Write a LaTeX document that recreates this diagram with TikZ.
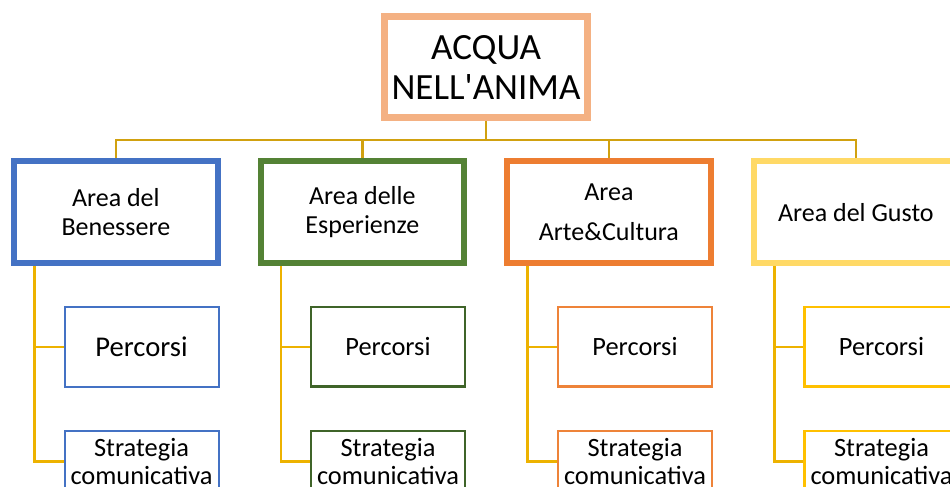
\documentclass[tikz,border=0pt]{standalone}
\usepackage{fontspec}
\setmainfont{Carlito}[Ligatures=TeXOff]
\usetikzlibrary{backgrounds,calc}
\definecolor{titlec}{HTML}{F4B183}
\definecolor{bluec}{HTML}{4472C4}
\definecolor{greenc}{HTML}{548235}
\definecolor{greensub}{HTML}{3F6429}
\definecolor{orangec}{HTML}{ED7D31}
\definecolor{orangesub}{HTML}{EE8339}
\definecolor{yellowc}{HTML}{FFD966}
\definecolor{yellowsub}{HTML}{FFC000}
\definecolor{topline}{HTML}{D1A10F}
\definecolor{lowline}{HTML}{EDB200}
\begin{document}
\begin{tikzpicture}[x=1pt,y=-1pt,
  titlebox/.style={draw=titlec, line width=6.7pt, minimum width=203pt, minimum height=100.7pt, inner sep=0pt, align=center, font=\fontsize{37}{40}\selectfont},
  areabox/.style={line width=6pt, minimum width=203.7pt, minimum height=101.7pt, inner sep=0pt, align=center, font=\fontsize{26}{29.3}\selectfont},
  subbox/.style={line width=2pt, minimum width=154pt, minimum height=79.7pt, inner sep=0pt, align=center, font=\fontsize{26.4}{28}\selectfont},
  subboxb/.style={subbox, minimum height=61pt},
  topconn/.style={draw=topline, line width=2.5pt},
  lowconn/.style={draw=lowline, line width=2.4pt}]
\useasboundingbox (0,0) rectangle (950,487);

\node[titlebox] (title) at (486,67) {ACQUA\\NELL'ANIMA};
\coordinate (bus) at (0,140);

\node[areabox, draw=bluec] (b1) at (115.85,212.15) {Area del\\Benessere};
\node[areabox, draw=greenc] (b2) at (362.35,212.15) {Area delle\\Esperienze};
\node[areabox, draw=orangec, font=\fontsize{26}{40}\selectfont] (b3) at (608.85,212.15) {Area\\Arte\&Cultura};
\node[areabox, draw=yellowc] (b4) at (855.85,212.15) {Area del Gusto};

\node[subbox, draw=bluec, font=\fontsize{28.6}{30}\selectfont] (p1) at (141.5,346.8) {Percorsi};
\node[subbox, draw=greensub, line width=2.6pt] (p2) at (388,346.8) {Percorsi};
\node[subbox, draw=orangesub, line width=2.4pt] (p3) at (635,346.8) {Percorsi};
\node[subbox, draw=yellowsub, line width=2.4pt] (p4) at (881.5,346.8) {Percorsi};

\node[subboxb, draw=bluec] (s1) at (141.5,461.5) {Strategia\\comunicativa};
\node[subboxb, draw=greensub, line width=2.6pt] (s2) at (388,461.5) {Strategia\\comunicativa};
\node[subboxb, draw=orangesub, line width=2.4pt] (s3) at (635,461.5) {Strategia\\comunicativa};
\node[subboxb, draw=yellowsub, line width=2.4pt] (s4) at (881.5,461.5) {Strategia\\comunicativa};

\coordinate (t1) at (34.3,266);
\coordinate (t2) at (280.8,266);
\coordinate (t3) at (527.3,266);
\coordinate (t4) at (774.3,266);

\begin{scope}[on background layer]
  \fill[white] (0,0) rectangle (950,487);
  \draw[topconn] (title.south) -- (title.south |- bus);
  \draw[topconn] (b1.north) |- (bus -| b4.north) -- (b4.north);
  \draw[topconn] (b2.north) -- (b2.north |- bus);
  \draw[topconn] (b3.north) -- (b3.north |- bus);
  \foreach \i in {1,2,3,4} {
    \draw[lowconn] (t\i) |- (p\i.west);
    \draw[lowconn] (t\i) |- (s\i.west);
  }
\end{scope}
\end{tikzpicture}
\end{document}
